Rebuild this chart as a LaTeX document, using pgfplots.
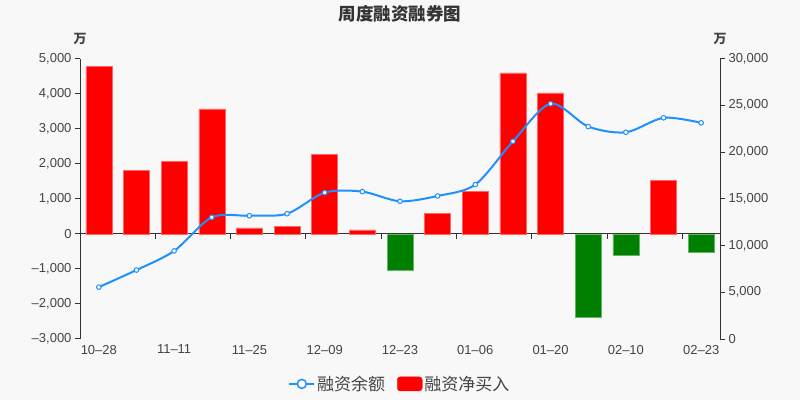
\documentclass[border=0pt]{standalone}
\usepackage{pgfplots}
\pgfplotsset{compat=1.18}
\usepackage{fontspec}
\setmainfont{Liberation Sans}
\newfontfamily\cjk{Noto Sans CJK SC}

\definecolor{bg}{HTML}{F8F8F8}
\definecolor{axisgray}{HTML}{333333}
\definecolor{txt}{HTML}{444444}
\definecolor{lineblue}{HTML}{1E90FF}
\definecolor{posred}{HTML}{FF0000}
\definecolor{neggreen}{HTML}{008000}

\pgfplotsset{
  common/.style={
    at={(80bp,61bp)}, anchor=south west,
    scale only axis, width=640bp, height=280.5bp,
    xmin=-0.5, xmax=16.5,
    scaled y ticks=false,
    tick style={axisgray, line width=1bp},
    major tick length=5bp,
    ticklabel style={font=\fontsize{13bp}{15bp}\selectfont, text=txt},
  },
  unitlabel/.style={
    every axis y label/.style={at={(axis description cs:#1,1)}, anchor=center,
      rotate=0, yshift=20bp, font=\bfseries\fontsize{13bp}{15bp}\selectfont, text=txt},
  },
  nolinearrows/.style={
    axis line style={axisgray, line width=1bp},
    every inner x axis line/.append style={-},
    every outer x axis line/.append style={-},
    every inner y axis line/.append style={-},
    every outer y axis line/.append style={-},
  }
}

\begin{document}
\begin{tikzpicture}
\fill[bg] (0,0) rectangle (800bp,400bp);

% bars: net financing purchase (left axis)
\begin{axis}[
  common,
  ymin=-3000, ymax=5000,
  axis x line=middle, axis y line=left,
  nolinearrows,
  ytick align=outside,
  xtick=\empty,
  ytick={-3000,-2000,...,5000},
  yticklabels={{–3,000},{–2,000},{–1,000},0,{1,000},{2,000},{3,000},{4,000},{5,000}},
  unitlabel=0,
  ylabel={\cjk 万},
  title={周度融资融券图},
  every axis title/.style={at={(axis description cs:0.5,1)}, anchor=center,
    yshift=44.5bp, font=\cjk\bfseries\fontsize{17.5bp}{20bp}\selectfont, text=axisgray},
  ybar, bar width=26bp,
]
\addplot[ybar, bar shift=0pt, fill=posred, draw=posred!60!white, line width=0.5bp]
  coordinates {(0,4770) (1,1810) (2,2057) (3,3562) (4,171) (5,219) (6,2276)
               (7,114) (9,581) (10,1219) (11,4590) (12,4019) (15,1533)};
\addplot[ybar, bar shift=0pt, fill=neggreen, draw=neggreen!60!white, line width=0.5bp]
  coordinates {(8,-1040) (13,-2371) (14,-610) (16,-524)};
% ticks between every second category, on the zero line
\pgfplotsinvokeforeach{1.5,3.5,5.5,7.5,9.5,11.5,13.5,15.5}{
  \draw[axisgray, line width=1bp] (axis cs:#1,0) -- ([yshift=-5bp]axis cs:#1,0);
}
\end{axis}

% line: financing balance (right axis)
\begin{axis}[
  common,
  ymin=0, ymax=30000,
  axis x line=bottom, axis y line=right,
  nolinearrows,
  x axis line style={draw=none},
  ytick align=outside,
  xtick={0,2,...,16}, xtick style={draw=none},
  xticklabels={10–28,11–11,11–25,12–09,12–23,01–06,01–20,02–10,02–23},
  ytick={0,5000,...,30000},
  yticklabels={0,{5,000},{10,000},{15,000},{20,000},{25,000},{30,000}},
  unitlabel=1,
  ylabel={\cjk 万},
  legend style={at={(0.5,-0.16)}, anchor=center, draw=none, fill=none,
    font=\cjk\fontsize{17bp}{19bp}\selectfont, text=txt,
    /tikz/every even column/.append style={column sep=10bp}},
  legend columns=2,
]
\addlegendimage{legend image code/.code={
  \draw[lineblue, line width=1.5bp] (0bp,0bp) -- (25bp,0bp);
  \draw[lineblue, line width=1.5bp, fill=white] (12.5bp,0bp) circle (4.5bp);}}
\addlegendentry{融资余额}
\addlegendimage{legend image code/.code={
  \fill[posred, rounded corners=3bp] (0bp,-7bp) rectangle (25bp,7bp);}}
\addlegendentry{融资净买入}
\addplot[forget plot, smooth, lineblue, line width=2bp, mark=*, mark size=2.3bp,
  mark options={fill=white, draw=lineblue, line width=1bp}]
  coordinates {(0,5550) (1,7376) (2,9419) (3,13011) (4,13183) (5,13398) (6,15656)
               (7,15763) (8,14731) (9,15301) (10,16516) (11,21140) (12,25161)
               (13,22720) (14,22108) (15,23656) (16,23118)};
\end{axis}
\end{tikzpicture}
\end{document}
